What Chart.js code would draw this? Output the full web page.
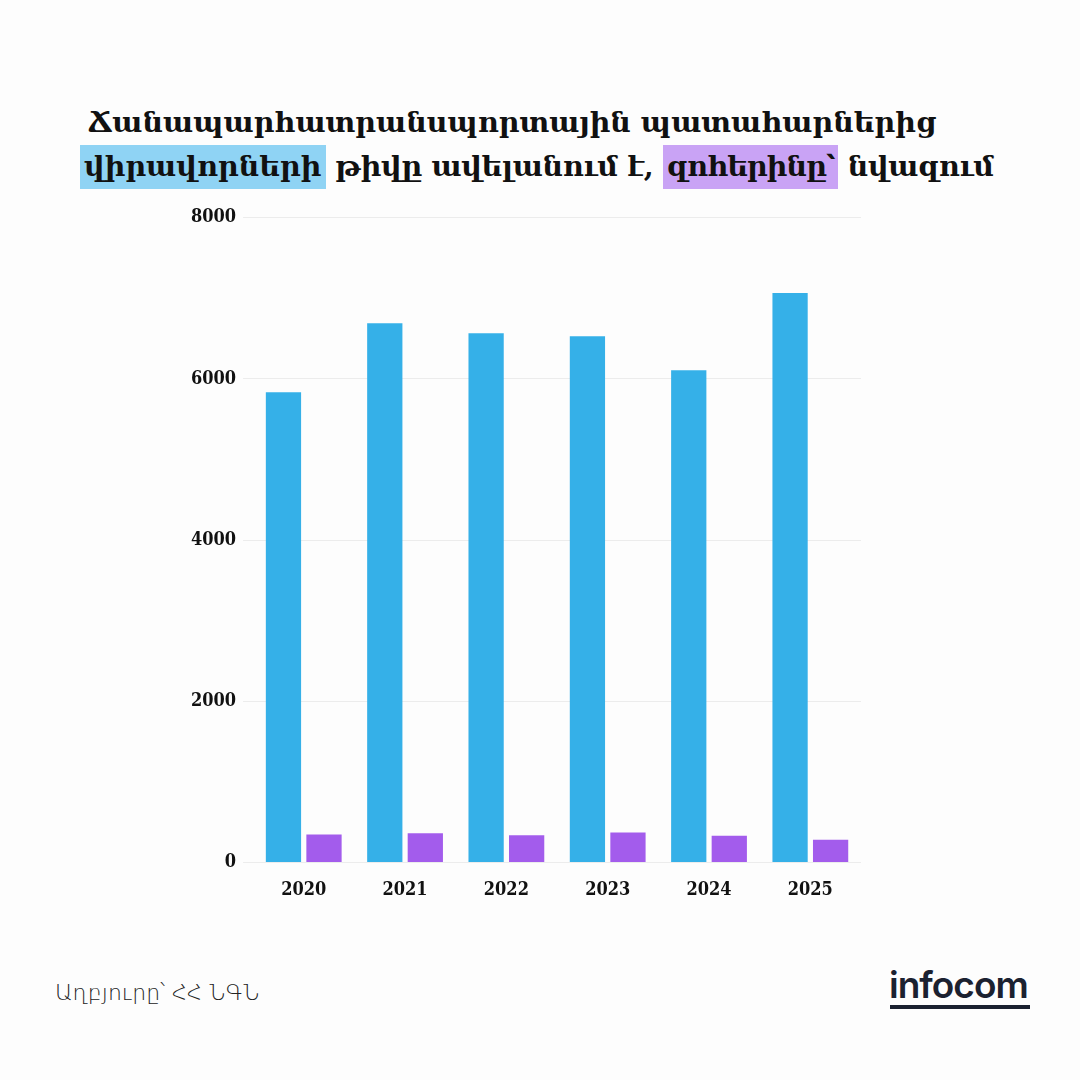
<!DOCTYPE html>
<html><head><meta charset="utf-8">
<script src="https://cdn.jsdelivr.net/npm/chart.js@4"></script>
<style>
html,body{margin:0;padding:0;background:#fdfdfd;}
#wrap{position:relative;width:1080px;height:1080px;background:#fdfdfd;overflow:hidden;}
#title{position:absolute;left:80px;top:100px;font-family:"DejaVu Serif",serif;font-weight:bold;font-size:28.6px;line-height:44px;color:#111;white-space:nowrap;}
#title .l1{padding-left:8px;}
.hb{background:#8fd3f4;padding:4px 4px 6px 4px;letter-spacing:0;}
.hp{background:#c9a3f5;padding:4px 4px 6px 4px;letter-spacing:-1px;}
.tight{letter-spacing:-0.4px;}
#chartbox{position:absolute;left:170px;top:200px;width:700px;height:720px;}
#src{position:absolute;left:55px;top:980px;font-family:"DejaVu Sans",sans-serif;font-size:22px;color:#222;font-weight:300;}
#logo{position:absolute;left:889px;top:962px;font-family:Inter,"DejaVu Sans",sans-serif;font-weight:600;font-size:37px;color:#1b2130;letter-spacing:-1px;}
#logoline{position:absolute;left:890px;top:1005px;width:140px;height:4px;background:#1b2130;}
</style></head>
<body><div id="wrap">
<div id="title"><div class="l1">Ճանապարհատրանսպորտային պատահարներից</div><div class="tight"><span class="hb">վիրավորների</span> թիվը ավելանում է, <span class="hp">զոհերինը՝</span> նվազում</div></div>
<div id="chartbox"><canvas id="c" width="700" height="720"></canvas></div>
<div id="src">Աղբյուրը՝ ՀՀ ՆԳՆ</div>
<div id="logo">infocom</div>
<div id="logoline"></div>
</div>
<script>
const years = ["2020","2021","2022","2023","2024","2025"];
const injured = [5836, 6691, 6567, 6530, 6109, 7067];
const killed = [347, 363, 338, 372, 330, 281];
const yTicks = [0, 2000, 4000, 6000, 8000];

const tickFont = {family:'"DejaVu Serif Condensed", "DejaVu Serif"', weight:'bold', size:18};
new Chart(document.getElementById('c'), {
  type: 'bar',
  data: {
    labels: years,
    datasets: [
      {label:'Վիրավորներ', data: injured, backgroundColor:'#35b0e8', barPercentage:0.87, categoryPercentage:0.8},
      {label:'Զոհեր', data: killed, backgroundColor:'#a35cec', barPercentage:0.87, categoryPercentage:0.8}
    ]
  },
  options: {
    responsive:false, animation:false,
    layout:{padding:{top:7,right:9,bottom:10,left:14}},
    plugins:{legend:{display:false}, tooltip:{enabled:false}},
    scales:{
      x:{grid:{display:false}, border:{display:false},
         ticks:{color:'#111', font:tickFont, padding:9}},
      y:{min:0, max:8000,
         afterBuildTicks:(s)=>{s.ticks = yTicks.map(v=>({value:v}));},
         grid:{color:'#ececec', tickLength:10}, border:{display:false},
         ticks:{color:'#111', font:tickFont, padding:7, callback:(v)=>String(v)}}
    }
  }
});
</script>
</body></html>
